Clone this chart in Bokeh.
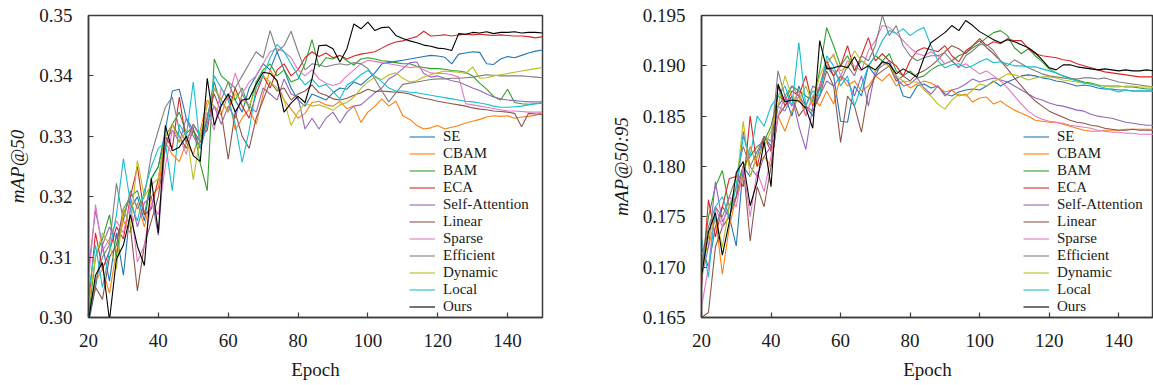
from bokeh.plotting import figure
from bokeh.models import Range1d, FixedTicker, Legend, LegendItem, NumeralTickFormatter
from bokeh.layouts import row
from bokeh.embed import file_html
from bokeh.resources import INLINE

epochs = [20, 22, 24, 26, 28, 30, 32, 34, 36, 38, 40,
          42, 44, 46, 48, 50, 52, 54, 56, 58, 60, 62,
          64, 66, 68, 70, 72, 74, 76, 78, 80, 82, 84,
          86, 88, 90, 92, 94, 96, 98, 100, 102, 104, 106,
          108, 110, 112, 114, 116, 118, 120, 122, 124, 126, 128,
          130, 132, 134, 136, 138, 140, 142, 144, 146, 148, 150]

names = ["SE", "CBAM", "BAM", "ECA", "Self-Attention", "Linear", "Sparse",
         "Efficient", "Dynamic", "Local", "Ours"]

# ---- mAP@50 ----
map50_se = [0.2990, 0.3050, 0.3120, 0.3060, 0.3140, 0.3070, 0.3180, 0.3200, 0.3160, 0.3230, 0.3250,
            0.3310, 0.3375, 0.3378, 0.3330, 0.3310, 0.3280, 0.3330, 0.3390, 0.3350, 0.3370, 0.3360,
            0.3340, 0.3380, 0.3400, 0.3420, 0.3410, 0.3440, 0.3410, 0.3380, 0.3360, 0.3350, 0.3370,
            0.3365, 0.3360, 0.3372, 0.3380, 0.3378, 0.3390, 0.3385, 0.3395, 0.3405, 0.3420, 0.3422,
            0.3424, 0.3426, 0.3428, 0.3430, 0.3432, 0.3434, 0.3433, 0.3431, 0.3420, 0.3436, 0.3438,
            0.3440, 0.3439, 0.3420, 0.3419, 0.3428, 0.3432, 0.3430, 0.3434, 0.3438, 0.3441, 0.3443]
map50_cbam = [0.3010, 0.3060, 0.3080, 0.3040, 0.3110, 0.3160, 0.3140, 0.3190, 0.3150, 0.3200, 0.3215,
              0.3290, 0.3270, 0.3258, 0.3290, 0.3270, 0.3310, 0.3360, 0.3350, 0.3335, 0.3370, 0.3310,
              0.3330, 0.3345, 0.3320, 0.3370, 0.3410, 0.3390, 0.3360, 0.3345, 0.3330, 0.3338, 0.3356,
              0.3358, 0.3352, 0.3350, 0.3358, 0.3346, 0.3350, 0.3323, 0.3340, 0.3350, 0.3362, 0.3350,
              0.3358, 0.3334, 0.3328, 0.3318, 0.3312, 0.3314, 0.3318, 0.3312, 0.3315, 0.3318, 0.3322,
              0.3325, 0.3328, 0.3332, 0.3334, 0.3333, 0.3334, 0.3330, 0.3332, 0.3333, 0.3335, 0.3340]
map50_bam = [0.3000, 0.3100, 0.3130, 0.3170, 0.3100, 0.3180, 0.3200, 0.3210, 0.3170, 0.3230, 0.3250,
             0.3300, 0.3320, 0.3340, 0.3305, 0.3315, 0.3255, 0.3210, 0.3428, 0.3400, 0.3390, 0.3360,
             0.3380, 0.3345, 0.3390, 0.3410, 0.3420, 0.3400, 0.3410, 0.3390, 0.3395, 0.3420, 0.3460,
             0.3415, 0.3430, 0.3428, 0.3434, 0.3425, 0.3418, 0.3428, 0.3430, 0.3428, 0.3425, 0.3424,
             0.3422, 0.3420, 0.3420, 0.3416, 0.3414, 0.3412, 0.3412, 0.3411, 0.3409, 0.3408, 0.3406,
             0.3400, 0.3388, 0.3378, 0.3366, 0.3360, 0.3378, 0.3356, 0.3354, 0.3353, 0.3354, 0.3355]
map50_eca = [0.3020, 0.3140, 0.3080, 0.3110, 0.3150, 0.3130, 0.3200, 0.3250, 0.3170, 0.3180, 0.3230,
             0.3300, 0.3280, 0.3365, 0.3290, 0.3320, 0.3300, 0.3310, 0.3380, 0.3360, 0.3340, 0.3380,
             0.3350, 0.3330, 0.3370, 0.3400, 0.3380, 0.3410, 0.3420, 0.3400, 0.3410, 0.3430, 0.3440,
             0.3432, 0.3438, 0.3430, 0.3434, 0.3428, 0.3433, 0.3436, 0.3438, 0.3440, 0.3446, 0.3452,
             0.3456, 0.3458, 0.3462, 0.3465, 0.3474, 0.3466, 0.3467, 0.3468, 0.3466, 0.3468, 0.3469,
             0.3468, 0.3469, 0.3468, 0.3467, 0.3468, 0.3467, 0.3466, 0.3466, 0.3465, 0.3463, 0.3465]
map50_selfatt = [0.3080, 0.3177, 0.3120, 0.3150, 0.3130, 0.3170, 0.3200, 0.3150, 0.3190, 0.3200, 0.3136,
                 0.3290, 0.3310, 0.3290, 0.3330, 0.3300, 0.3280, 0.3320, 0.3350, 0.3320, 0.3350, 0.3330,
                 0.3370, 0.3350, 0.3340, 0.3380, 0.3370, 0.3360, 0.3395, 0.3370, 0.3365, 0.3312, 0.3330,
                 0.3312, 0.3330, 0.3340, 0.3322, 0.3340, 0.3350, 0.3352, 0.3362, 0.3372, 0.3380, 0.3395,
                 0.3402, 0.3412, 0.3422, 0.3423, 0.3404, 0.3398, 0.3400, 0.3396, 0.3392, 0.3390, 0.3385,
                 0.3380, 0.3376, 0.3370, 0.3365, 0.3362, 0.3360, 0.3359, 0.3358, 0.3357, 0.3357, 0.3357]
map50_linear = [0.3000, 0.3050, 0.3030, 0.3100, 0.3120, 0.3180, 0.3150, 0.3044, 0.3120, 0.3160, 0.3200,
                0.3280, 0.3320, 0.3300, 0.3280, 0.3310, 0.3290, 0.3330, 0.3370, 0.3340, 0.3262, 0.3340,
                0.3300, 0.3280, 0.3330, 0.3360, 0.3390, 0.3375, 0.3380, 0.3360, 0.3370, 0.3375, 0.3385,
                0.3372, 0.3368, 0.3362, 0.3360, 0.3363, 0.3368, 0.3372, 0.3378, 0.3374, 0.3375, 0.3374,
                0.3373, 0.3372, 0.3370, 0.3366, 0.3363, 0.3361, 0.3358, 0.3356, 0.3354, 0.3352, 0.3350,
                0.3347, 0.3345, 0.3344, 0.3342, 0.3341, 0.3340, 0.3338, 0.3316, 0.3338, 0.3337, 0.3336]
map50_sparse = [0.3060, 0.3187, 0.3110, 0.3130, 0.3160, 0.3140, 0.3190, 0.3092, 0.3120, 0.3190, 0.3170,
                0.3250, 0.3310, 0.3300, 0.3270, 0.3320, 0.3300, 0.3340, 0.3310, 0.3380, 0.3360, 0.3405,
                0.3370, 0.3390, 0.3400, 0.3420, 0.3440, 0.3445, 0.3440, 0.3430, 0.3410, 0.3400, 0.3410,
                0.3395, 0.3388, 0.3384, 0.3388, 0.3400, 0.3410, 0.3420, 0.3426, 0.3424, 0.3422, 0.3420,
                0.3418, 0.3416, 0.3414, 0.3415, 0.3410, 0.3405, 0.3404, 0.3404, 0.3402, 0.3398, 0.3354,
                0.3352, 0.3350, 0.3348, 0.3346, 0.3344, 0.3342, 0.3342, 0.3341, 0.3340, 0.3340, 0.3340]
map50_efficient = [0.3000, 0.3060, 0.3100, 0.3120, 0.3222, 0.3160, 0.3210, 0.3180, 0.3200, 0.3270, 0.3310,
                   0.3348, 0.3365, 0.3310, 0.3290, 0.3320, 0.3300, 0.3330, 0.3380, 0.3360, 0.3390, 0.3380,
                   0.3400, 0.3420, 0.3440, 0.3430, 0.3475, 0.3440, 0.3450, 0.3474, 0.3440, 0.3410, 0.3420,
                   0.3418, 0.3415, 0.3418, 0.3420, 0.3418, 0.3422, 0.3420, 0.3412, 0.3395, 0.3375, 0.3357,
                   0.3372, 0.3386, 0.3388, 0.3390, 0.3392, 0.3394, 0.3395, 0.3395, 0.3396, 0.3396, 0.3397,
                   0.3398, 0.3400, 0.3402, 0.3401, 0.3400, 0.3400, 0.3400, 0.3400, 0.3399, 0.3398, 0.3397]
map50_dynamic = [0.3020, 0.3100, 0.3140, 0.3120, 0.3080, 0.3180, 0.3150, 0.3260, 0.3200, 0.3220, 0.3230,
                 0.3300, 0.3320, 0.3290, 0.3310, 0.3228, 0.3300, 0.3350, 0.3380, 0.3360, 0.3340, 0.3370,
                 0.3360, 0.3350, 0.3380, 0.3400, 0.3390, 0.3380, 0.3360, 0.3318, 0.3340, 0.3355, 0.3350,
                 0.3352, 0.3348, 0.3343, 0.3352, 0.3356, 0.3365, 0.3379, 0.3390, 0.3398, 0.3394, 0.3402,
                 0.3405, 0.3396, 0.3390, 0.3392, 0.3398, 0.3402, 0.3405, 0.3408, 0.3407, 0.3406, 0.3404,
                 0.3415, 0.3396, 0.3397, 0.3400, 0.3402, 0.3404, 0.3406, 0.3408, 0.3410, 0.3412, 0.3414]
map50_local = [0.3040, 0.3120, 0.3050, 0.3110, 0.3170, 0.3263, 0.3190, 0.3160, 0.3210, 0.3250, 0.3280,
               0.3290, 0.3210, 0.3320, 0.3300, 0.3390, 0.3280, 0.3320, 0.3400, 0.3380, 0.3360, 0.3320,
               0.3257, 0.3310, 0.3380, 0.3400, 0.3430, 0.3452, 0.3440, 0.3420, 0.3400, 0.3385, 0.3395,
               0.3382, 0.3386, 0.3374, 0.3362, 0.3385, 0.3392, 0.3402, 0.3409, 0.3400, 0.3390, 0.3380,
               0.3375, 0.3375, 0.3373, 0.3372, 0.3370, 0.3368, 0.3366, 0.3364, 0.3362, 0.3360, 0.3358,
               0.3357, 0.3355, 0.3353, 0.3350, 0.3348, 0.3348, 0.3349, 0.3350, 0.3352, 0.3354, 0.3355]
map50_ours = [0.2995, 0.3070, 0.3091, 0.2995, 0.3097, 0.3120, 0.3170, 0.3118, 0.3086, 0.3230, 0.3140,
              0.3318, 0.3276, 0.3282, 0.3300, 0.3268, 0.3258, 0.3396, 0.3318, 0.3351, 0.3370, 0.3340,
              0.3360, 0.3362, 0.3386, 0.3406, 0.3404, 0.3392, 0.3340, 0.3355, 0.3366, 0.3356, 0.3395,
              0.3450, 0.3451, 0.3445, 0.3423, 0.3445, 0.3486, 0.3478, 0.3489, 0.3475, 0.3480, 0.3481,
              0.3467, 0.3462, 0.3458, 0.3455, 0.3451, 0.3449, 0.3446, 0.3445, 0.3442, 0.3470, 0.3469,
              0.3472, 0.3471, 0.3473, 0.3470, 0.3472, 0.3472, 0.3473, 0.3471, 0.3472, 0.3472, 0.3471]

# ---- mAP@50:95 ----
map5095_se = [0.1720, 0.1700, 0.1740, 0.1760, 0.1750, 0.1721, 0.1800, 0.1790, 0.1810, 0.1830, 0.1820,
              0.1860, 0.1870, 0.1850, 0.1880, 0.1860, 0.1850, 0.1880, 0.1900, 0.1890, 0.1845, 0.1844,
              0.1880, 0.1870, 0.1900, 0.1890, 0.1905, 0.1900, 0.1890, 0.1870, 0.1868, 0.1880, 0.1882,
              0.1878, 0.1880, 0.1872, 0.1870, 0.1874, 0.1876, 0.1877, 0.1876, 0.1880, 0.1885, 0.1880,
              0.1884, 0.1887, 0.1890, 0.1891, 0.1890, 0.1888, 0.1887, 0.1885, 0.1884, 0.1882, 0.1880,
              0.1881, 0.1880, 0.1878, 0.1877, 0.1877, 0.1876, 0.1876, 0.1875, 0.1875, 0.1875, 0.1875]
map5095_cbam = [0.1710, 0.1720, 0.1750, 0.1693, 0.1740, 0.1770, 0.1790, 0.1820, 0.1800, 0.1810, 0.1800,
                0.1850, 0.1835, 0.1855, 0.1870, 0.1850, 0.1870, 0.1860, 0.1875, 0.1862, 0.1890, 0.1880,
                0.1885, 0.1875, 0.1880, 0.1890, 0.1885, 0.1892, 0.1880, 0.1885, 0.1878, 0.1882, 0.1885,
                0.1883, 0.1879, 0.1874, 0.1876, 0.1870, 0.1872, 0.1864, 0.1868, 0.1869, 0.1862, 0.1865,
                0.1860, 0.1856, 0.1853, 0.1850, 0.1846, 0.1845, 0.1844, 0.1844, 0.1842, 0.1840, 0.1838,
                0.1836, 0.1835, 0.1835, 0.1836, 0.1836, 0.1836, 0.1837, 0.1837, 0.1837, 0.1837, 0.1837]
map5095_bam = [0.1700, 0.1750, 0.1780, 0.1796, 0.1760, 0.1780, 0.1800, 0.1810, 0.1820, 0.1825, 0.1840,
               0.1870, 0.1865, 0.1880, 0.1875, 0.1870, 0.1865, 0.1895, 0.1938, 0.1920, 0.1900, 0.1910,
               0.1895, 0.1905, 0.1900, 0.1910, 0.1905, 0.1912, 0.1895, 0.1890, 0.1895, 0.1888, 0.1890,
               0.1896, 0.1900, 0.1902, 0.1905, 0.1910, 0.1913, 0.1918, 0.1922, 0.1928, 0.1933, 0.1935,
               0.1930, 0.1918, 0.1912, 0.1917, 0.1910, 0.1904, 0.1897, 0.1893, 0.1890, 0.1888, 0.1886,
               0.1884, 0.1883, 0.1881, 0.1880, 0.1880, 0.1880, 0.1879, 0.1879, 0.1878, 0.1877, 0.1877]
map5095_eca = [0.1680, 0.1767, 0.1730, 0.1760, 0.1788, 0.1790, 0.1780, 0.1850, 0.1800, 0.1830, 0.1815,
               0.1880, 0.1860, 0.1875, 0.1870, 0.1890, 0.1860, 0.1880, 0.1905, 0.1890, 0.1900, 0.1920,
               0.1895, 0.1910, 0.1928, 0.1905, 0.1912, 0.1905, 0.1900, 0.1890, 0.1905, 0.1915, 0.1918,
               0.1916, 0.1914, 0.1920, 0.1910, 0.1904, 0.1915, 0.1920, 0.1927, 0.1920, 0.1924, 0.1922,
               0.1927, 0.1925, 0.1925, 0.1917, 0.1912, 0.1910, 0.1909, 0.1908, 0.1906, 0.1905, 0.1902,
               0.1900, 0.1898, 0.1896, 0.1894, 0.1893, 0.1892, 0.1891, 0.1890, 0.1889, 0.1889, 0.1889]
map5095_selfatt = [0.1690, 0.1720, 0.1785, 0.1745, 0.1760, 0.1770, 0.1835, 0.1800, 0.1790, 0.1810, 0.1820,
                   0.1860, 0.1855, 0.1870, 0.1840, 0.1817, 0.1860, 0.1870, 0.1885, 0.1880, 0.1890, 0.1885,
                   0.1870, 0.1890, 0.1860, 0.1895, 0.1900, 0.1905, 0.1888, 0.1880, 0.1882, 0.1888, 0.1878,
                   0.1872, 0.1880, 0.1870, 0.1876, 0.1878, 0.1882, 0.1887, 0.1884, 0.1886, 0.1888, 0.1886,
                   0.1884, 0.1880, 0.1876, 0.1872, 0.1868, 0.1866, 0.1863, 0.1861, 0.1860, 0.1858, 0.1856,
                   0.1855, 0.1852, 0.1850, 0.1849, 0.1848, 0.1846, 0.1844, 0.1843, 0.1842, 0.1841, 0.1841]
map5095_linear = [0.1650, 0.1655, 0.1720, 0.1740, 0.1750, 0.1770, 0.1800, 0.1726, 0.1780, 0.1760, 0.1800,
                  0.1850, 0.1860, 0.1870, 0.1850, 0.1860, 0.1855, 0.1870, 0.1895, 0.1880, 0.1824, 0.1870,
                  0.1860, 0.1834, 0.1875, 0.1890, 0.1895, 0.1900, 0.1885, 0.1890, 0.1885, 0.1892, 0.1895,
                  0.1900, 0.1906, 0.1914, 0.1920, 0.1917, 0.1912, 0.1920, 0.1925, 0.1918, 0.1912, 0.1905,
                  0.1897, 0.1888, 0.1880, 0.1872, 0.1865, 0.1860, 0.1855, 0.1852, 0.1849, 0.1846, 0.1844,
                  0.1843, 0.1841, 0.1840, 0.1838, 0.1837, 0.1836, 0.1836, 0.1837, 0.1836, 0.1836, 0.1836]
map5095_sparse = [0.1660, 0.1700, 0.1760, 0.1740, 0.1770, 0.1760, 0.1800, 0.1750, 0.1795, 0.1775, 0.1810,
                  0.1850, 0.1870, 0.1860, 0.1875, 0.1850, 0.1870, 0.1880, 0.1900, 0.1912, 0.1890, 0.1905,
                  0.1900, 0.1895, 0.1915, 0.1925, 0.1940, 0.1938, 0.1932, 0.1925, 0.1918, 0.1912, 0.1910,
                  0.1914, 0.1910, 0.1902, 0.1905, 0.1899, 0.1902, 0.1897, 0.1892, 0.1895, 0.1890, 0.1885,
                  0.1878, 0.1870, 0.1862, 0.1855, 0.1850, 0.1847, 0.1845, 0.1844, 0.1843, 0.1841, 0.1840,
                  0.1839, 0.1838, 0.1836, 0.1835, 0.1834, 0.1834, 0.1833, 0.1833, 0.1832, 0.1832, 0.1832]
map5095_efficient = [0.1700, 0.1740, 0.1760, 0.1750, 0.1770, 0.1790, 0.1820, 0.1800, 0.1815, 0.1830, 0.1825,
                     0.1895, 0.1870, 0.1880, 0.1870, 0.1860, 0.1880, 0.1875, 0.1900, 0.1895, 0.1885, 0.1900,
                     0.1890, 0.1910, 0.1905, 0.1920, 0.1950, 0.1930, 0.1940, 0.1920, 0.1910, 0.1905, 0.1908,
                     0.1910, 0.1910, 0.1913, 0.1905, 0.1898, 0.1910, 0.1915, 0.1921, 0.1921, 0.1915, 0.1905,
                     0.1900, 0.1906, 0.1902, 0.1898, 0.1895, 0.1892, 0.1890, 0.1889, 0.1888, 0.1887, 0.1887,
                     0.1888, 0.1888, 0.1887, 0.1888, 0.1886, 0.1884, 0.1883, 0.1882, 0.1881, 0.1880, 0.1879]
map5095_dynamic = [0.1690, 0.1730, 0.1750, 0.1720, 0.1760, 0.1780, 0.1845, 0.1790, 0.1810, 0.1820, 0.1835,
                   0.1860, 0.1890, 0.1870, 0.1865, 0.1880, 0.1862, 0.1890, 0.1905, 0.1910, 0.1895, 0.1900,
                   0.1915, 0.1905, 0.1900, 0.1895, 0.1903, 0.1900, 0.1890, 0.1885, 0.1884, 0.1884, 0.1876,
                   0.1870, 0.1862, 0.1857, 0.1866, 0.1872, 0.1870, 0.1876, 0.1882, 0.1880, 0.1884, 0.1888,
                   0.1892, 0.1891, 0.1889, 0.1886, 0.1888, 0.1889, 0.1889, 0.1888, 0.1886, 0.1885, 0.1884,
                   0.1883, 0.1882, 0.1881, 0.1880, 0.1879, 0.1879, 0.1880, 0.1880, 0.1879, 0.1879, 0.1879]
map5095_local = [0.1730, 0.1690, 0.1760, 0.1770, 0.1750, 0.1780, 0.1830, 0.1810, 0.1850, 0.1840, 0.1860,
                 0.1870, 0.1880, 0.1860, 0.1923, 0.1860, 0.1875, 0.1870, 0.1910, 0.1900, 0.1880, 0.1890,
                 0.1860, 0.1880, 0.1900, 0.1910, 0.1925, 0.1935, 0.1932, 0.1937, 0.1930, 0.1935, 0.1938,
                 0.1920, 0.1905, 0.1898, 0.1901, 0.1902, 0.1898, 0.1900, 0.1904, 0.1907, 0.1903, 0.1904,
                 0.1902, 0.1900, 0.1900, 0.1899, 0.1899, 0.1897, 0.1895, 0.1893, 0.1890, 0.1887, 0.1885,
                 0.1883, 0.1882, 0.1880, 0.1878, 0.1876, 0.1874, 0.1876, 0.1875, 0.1875, 0.1875, 0.1875]
map5095_ours = [0.1691, 0.1735, 0.1754, 0.1712, 0.1745, 0.1794, 0.1805, 0.1761, 0.1785, 0.1825, 0.1780,
                0.1882, 0.1864, 0.1866, 0.1865, 0.1858, 0.1838, 0.1925, 0.1897, 0.1898, 0.1900, 0.1898,
                0.1909, 0.1896, 0.1900, 0.1896, 0.1904, 0.1902, 0.1892, 0.1897, 0.1893, 0.1889, 0.1908,
                0.1923, 0.1928, 0.1933, 0.1940, 0.1935, 0.1945, 0.1940, 0.1934, 0.1930, 0.1926, 0.1923,
                0.1926, 0.1924, 0.1921, 0.1918, 0.1913, 0.1906, 0.1898, 0.1896, 0.1901, 0.1901, 0.1899,
                0.1898, 0.1897, 0.1896, 0.1897, 0.1896, 0.1895, 0.1896, 0.1895, 0.1895, 0.1896, 0.1895]

x_ticks = [20, 40, 60, 80, 100, 120, 140]
y50_ticks = [0.30, 0.31, 0.32, 0.33, 0.34, 0.35]
y5095_ticks = [0.165, 0.170, 0.175, 0.180, 0.185, 0.190, 0.195]

colors = ["#1f77b4", "#ff7f0e", "#2ca02c", "#d62728", "#9467bd", "#8c564b",
          "#e377c2", "#7f7f7f", "#bcbd22", "#17becf", "#000000"]

left_series = [map50_se, map50_cbam, map50_bam, map50_eca, map50_selfatt, map50_linear,
               map50_sparse, map50_efficient, map50_dynamic, map50_local, map50_ours]
right_series = [map5095_se, map5095_cbam, map5095_bam, map5095_eca, map5095_selfatt, map5095_linear,
                map5095_sparse, map5095_efficient, map5095_dynamic, map5095_local, map5095_ours]

AX_FONT = "Times"
LEG_FONT = "Times"
TXT = "#1a1a1a"
FRAME = "#3c3c3c"


def make_panel(series, y0, y1, yticks, fmt, ylabel, border_left, frame_w, border_right, leg_x):
    p = figure(width=border_left + frame_w + border_right, height=385,
               x_range=Range1d(20, 150), y_range=Range1d(y0, y1),
               output_backend="svg", toolbar_location=None,
               min_border_left=border_left, min_border_right=border_right,
               min_border_top=15, min_border_bottom=68)
    p.background_fill_color = "white"
    p.border_fill_color = "white"
    p.outline_line_color = FRAME
    p.outline_line_width = 1.5
    p.xgrid.visible = False
    p.ygrid.visible = False

    items = []
    for name, col, ys in zip(names, colors, series):
        r = p.line(epochs, ys, line_color=col, line_width=1.1)
        items.append(LegendItem(label=name, renderers=[r]))

    for ax in (p.xaxis[0], p.yaxis[0]):
        ax.axis_line_color = FRAME
        ax.axis_line_width = 1.5
        ax.major_tick_line_color = FRAME
        ax.major_tick_line_width = 1.2
        ax.major_tick_in = 5
        ax.major_tick_out = 0
        ax.minor_tick_line_color = None
        ax.major_label_text_font = AX_FONT
        ax.major_label_text_font_size = "19px"
        ax.major_label_text_color = TXT
        ax.axis_label_text_font = AX_FONT
        ax.axis_label_text_font_size = "19px"
        ax.axis_label_text_color = TXT

    p.xaxis[0].ticker = FixedTicker(ticks=x_ticks)
    p.xaxis[0].axis_label = "Epoch"
    p.xaxis[0].axis_label_text_font_style = "normal"
    p.xaxis[0].major_label_standoff = 16
    p.xaxis[0].axis_label_standoff = 9

    p.yaxis[0].ticker = FixedTicker(ticks=yticks)
    p.yaxis[0].formatter = NumeralTickFormatter(format=fmt)
    p.yaxis[0].axis_label = ylabel
    p.yaxis[0].axis_label_text_font_style = "italic"
    p.yaxis[0].major_label_standoff = 16
    p.yaxis[0].axis_label_standoff = 8

    legend = Legend(items=items, location=(leg_x, 2))
    legend.background_fill_alpha = 0
    legend.border_line_alpha = 0
    legend.padding = 0
    legend.margin = 0
    legend.spacing = 0
    legend.glyph_width = 26
    legend.glyph_height = 15
    legend.label_height = 15
    legend.label_standoff = 8
    legend.label_text_font = LEG_FONT
    legend.label_text_font_size = "15px"
    legend.label_text_color = TXT
    p.add_layout(legend)
    return p


p1 = make_panel(left_series, 0.30, 0.35, y50_ticks, "0.00", "mAP@50", 88, 454, 20, 321)
p2 = make_panel(right_series, 0.165, 0.195, y5095_ticks, "0.000", "mAP@50:95", 139, 452, 0, 322)

layout = row(p1, p2)
open("out.html", "w").write(file_html(layout, INLINE))
